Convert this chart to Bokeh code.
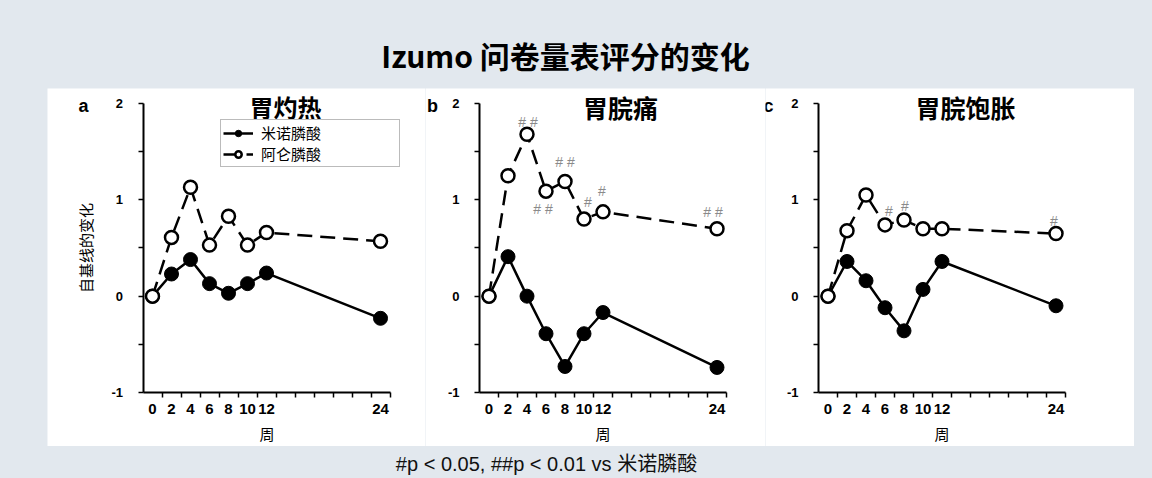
from bokeh.plotting import figure
from bokeh.layouts import column, row
from bokeh.models import (FixedTicker, Range1d, Legend, LegendItem, Label,
                          ColumnDataSource, Spacer)
from bokeh.core.properties import value
from bokeh.embed import file_html
from bokeh.resources import INLINE

# ---------------- data ----------------
weeks = [0, 2, 4, 6, 8, 10, 12, 24]
week_tick_labels = [0, 2, 4, 6, 8, 10, 12, 24]
week_minor_ticks = [1, 3, 5, 7, 9, 11, 13, 15, 17, 19, 21, 23, 25]
y_ticks = [-1, -0.5, 0, 0.5, 1, 1.5, 2]
y_tick_labels = ["-1", "", "0", "", "1", "", "2"]

series_names = ["米诺膦酸", "阿仑膦酸"]

# a: 胃灼热
heartburn_minodronate = [0, 0.23, 0.38, 0.13, 0.03, 0.13, 0.24, -0.23]
heartburn_alendronate = [0, 0.61, 1.13, 0.53, 0.83, 0.53, 0.66, 0.57]
heartburn_sig = ["", "", "", "", "", "", "", ""]

# b: 胃脘痛
pain_minodronate = [0, 0.41, 0.0, -0.39, -0.73, -0.39, -0.17, -0.74]
pain_alendronate = [0, 1.25, 1.68, 1.09, 1.19, 0.80, 0.875, 0.70]
pain_sig = ["", "", "##", "##", "##", "#", "#", "##"]

# c: 胃脘饱胀
bloating_minodronate = [0, 0.36, 0.16, -0.12, -0.36, 0.07, 0.36, -0.10]
bloating_alendronate = [0, 0.68, 1.05, 0.74, 0.79, 0.70, 0.70, 0.65]
bloating_sig = ["", "", "", "#", "#", "", "", "#"]

panel_titles = ["胃灼热", "胃脘痛", "胃脘饱胀"]
panel_letters = ["a", "b", "c"]
main_title = "Izumo 问卷量表评分的变化"
footer_text = "#p < 0.05, ##p < 0.01 vs 米诺膦酸"
y_label = "自基线的变化"
x_label = "周"

# ---------------- styling ----------------
BG = "#e2e8ee"
CJK = "Noto Sans CJK SC"
LAT = "Liberation Sans"
PX_PER_WEEK = 9.5
PX_PER_UNIT = 96.33
PANEL_H = 358
TOP_PAD = 15          # px between canvas top and y = 2

# pixel offsets of the significance marks relative to their point
sig_offsets = {
    1: {2: (1, -12), 3: (-3, 18), 4: (0, -20), 5: (4, -17), 6: (-1, -21), 7: (-4, -17)},
    2: {3: (4, -14), 4: (1, -14), 7: (-2, -13)},
}


def make_panel(idx, mino, alen, sig, canvas_left, width, zero_px, title_x, title_y,
               title_size, letter_x):
    x0 = -(zero_px - canvas_left) / PX_PER_WEEK
    x1 = x0 + width / PX_PER_WEEK
    y1 = 2 + TOP_PAD / PX_PER_UNIT
    y0 = y1 - PANEL_H / PX_PER_UNIT
    p = figure(width=width, height=PANEL_H, x_range=Range1d(x0, x1), y_range=Range1d(y0, y1),
               output_backend="svg", toolbar_location=None, min_border=0)
    p.outline_line_color = None
    p.grid.visible = False
    p.background_fill_color = "white"
    p.border_fill_color = "white"

    xa = p.xaxis[0]
    xa.fixed_location = -1
    xa.bounds = (-1, 25)
    xa.ticker = FixedTicker(ticks=week_tick_labels, minor_ticks=week_minor_ticks)
    xa.major_tick_out = 0
    xa.major_tick_in = 0
    xa.minor_tick_out = 5
    xa.minor_tick_in = 0
    xa.minor_tick_line_width = 1.5
    xa.minor_tick_line_color = "black"
    xa.axis_line_width = 2
    xa.axis_line_color = "black"
    xa.major_label_text_font = LAT
    xa.major_label_text_font_style = "bold"
    xa.major_label_text_font_size = "15px"
    xa.major_label_text_color = "black"
    xa.major_label_standoff = 7
    xa.axis_label = x_label
    xa.axis_label_text_font = CJK
    xa.axis_label_text_font_style = "normal"
    xa.axis_label_text_font_size = "15px"
    xa.axis_label_text_color = "black"
    xa.axis_label_standoff = 5

    ya = p.yaxis[0]
    ya.fixed_location = -1
    ya.bounds = (-1, 2)
    ya.ticker = FixedTicker(ticks=y_ticks)
    ya.major_label_overrides = dict(zip(y_ticks, y_tick_labels))
    ya.major_tick_out = 5
    ya.major_tick_in = 0
    ya.major_tick_line_width = 1.5
    ya.major_tick_line_color = "black"
    ya.minor_tick_out = 0
    ya.minor_tick_in = 0
    ya.axis_line_width = 2
    ya.axis_line_color = "black"
    ya.major_label_text_font = LAT
    ya.major_label_text_font_style = "bold"
    ya.major_label_text_font_size = "13px"
    ya.major_label_text_color = "black"
    ya.major_label_standoff = 15
    if idx == 0:
        ya.axis_label = y_label
        ya.axis_label_text_font = CJK
        ya.axis_label_text_font_style = "normal"
        ya.axis_label_text_font_size = "15px"
        ya.axis_label_text_color = "black"
        ya.axis_label_standoff = 13

    src = ColumnDataSource(dict(week=weeks, mino=mino, alen=alen))
    l_alen = p.line("week", "alen", source=src, line_color="black", line_width=2.5,
                    line_dash="15 8")
    l_mino = p.line("week", "mino", source=src, line_color="black", line_width=2.5)
    s_mino = p.scatter("week", "mino", source=src, marker="circle", size=14,
                       fill_color="black", line_color="black", line_width=1)
    s_alen = p.scatter("week", "alen", source=src, marker="circle", size=13,
                       fill_color="white", line_color="black", line_width=2.5)

    # significance marks
    offs = sig_offsets.get(idx, {})
    sx, sy, st, ox, oy = [], [], [], [], []
    for i, s in enumerate(sig):
        if s:
            sx.append(weeks[i])
            sy.append(alen[i])
            st.append(" ".join(list(s)))
            dx, dy = offs.get(i, (0, -15))
            ox.append(dx)
            oy.append(dy)
    if sx:
        ssrc = ColumnDataSource(dict(x=sx, y=sy, t=st, ox=ox, oy=oy))
        p.text("x", "y", text="t", source=ssrc, x_offset="ox", y_offset="oy",
               text_align="center", text_baseline="middle", text_color="#8a8a8a",
               text_font=value(LAT), text_font_size=value("14px"))

    if idx == 0:
        legend = Legend(items=[LegendItem(label=series_names[0], renderers=[l_mino, s_mino]),
                               LegendItem(label=series_names[1], renderers=[l_alen, s_alen])],
                        location=(173, 279))
        legend.label_text_font = CJK
        legend.label_text_font_size = "15px"
        legend.label_text_line_height = 1.0
        legend.label_text_color = "black"
        legend.glyph_width = 30
        legend.glyph_height = 16
        legend.label_height = 19
        legend.label_width = 136
        legend.label_standoff = 8
        legend.padding = 2
        legend.spacing = 0
        legend.margin = 0
        legend.border_line_color = "#777777"
        legend.border_line_width = 1
        legend.background_fill_color = "white"
        legend.background_fill_alpha = 1
        p.add_layout(legend, "center")

    p.add_layout(Label(x=title_x, y=title_y, text=panel_titles[idx], text_align="center",
                       text_baseline="middle", text_font=CJK, text_font_style="bold",
                       text_font_size=title_size, text_color="black"))
    p.add_layout(Label(x=letter_x, y=1.97, text=panel_letters[idx], text_align="center",
                       text_baseline="middle", text_font=LAT, text_font_style="bold",
                       text_font_size="18px", text_color="black"))
    return p


pa = make_panel(0, heartburn_minodronate, heartburn_alendronate, heartburn_sig,
                47, 378, 152, 14.0, 1.97, "24px", -7.26)
pb = make_panel(1, pain_minodronate, pain_alendronate, pain_sig,
                425, 340, 488.5, 13.84, 1.96, "25px", -5.95)
pc = make_panel(2, bloating_minodronate, bloating_alendronate, bloating_sig,
                765, 369, 827.5, 14.47, 1.96, "25px", -6.26)

# header
HEADER_H = 88
header = figure(width=1152, height=HEADER_H, x_range=Range1d(0, 1152), y_range=Range1d(0, HEADER_H),
                output_backend="svg", toolbar_location=None, min_border=0)
header.axis.visible = False
header.grid.visible = False
header.outline_line_color = None
header.background_fill_color = BG
header.border_fill_color = BG
header.add_layout(Label(x=565, y=HEADER_H - 54, text=main_title, text_align="center",
                        text_baseline="middle", text_font=CJK, text_font_style="bold",
                        text_font_size="30px", text_color="black"))

# footer
FOOTER_H = 32
footer = figure(width=1152, height=FOOTER_H, x_range=Range1d(0, 1152), y_range=Range1d(0, FOOTER_H),
                output_backend="svg", toolbar_location=None, min_border=0)
footer.axis.visible = False
footer.grid.visible = False
footer.outline_line_color = None
footer.background_fill_color = BG
footer.border_fill_color = BG
footer.add_layout(Label(x=546, y=FOOTER_H - 17, text=footer_text, text_align="center",
                        text_baseline="middle", text_font=LAT + ", " + CJK,
                        text_font_size="20px", text_color="#111111"))

layout = column(header, row(Spacer(width=47, height=PANEL_H), pa, pb, pc), footer)

html = file_html(layout, INLINE)
html = html.replace("</head>", "<style>body{background-color:%s;}</style></head>" % BG, 1)
open("out.html", "w").write(html)
